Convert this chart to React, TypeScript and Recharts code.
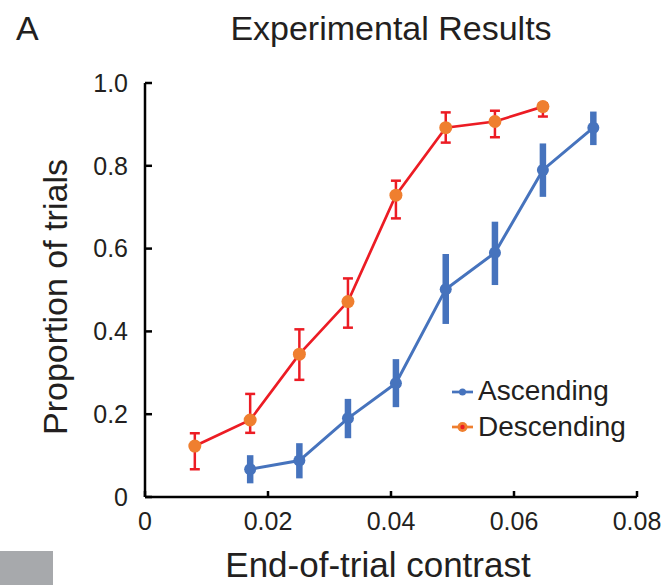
import { LineChart, Line, XAxis, YAxis, ErrorBar } from 'recharts';

// end-of-trial contrast levels shared by both staircases
const contrast = [0.0081, 0.0171, 0.0251, 0.033, 0.0408, 0.0489, 0.0569, 0.0647, 0.0729];

// descending runs use the first eight levels
const descMean = [0.123, 0.186, 0.345, 0.472, 0.729, 0.892, 0.907, 0.943];
const descLow = [0.067, 0.155, 0.283, 0.409, 0.673, 0.856, 0.869, 0.919];
const descHigh = [0.154, 0.249, 0.405, 0.528, 0.764, 0.929, 0.933, 0.951];

// ascending runs use the last eight levels
const ascMean = [0.067, 0.088, 0.19, 0.275, 0.502, 0.59, 0.79, 0.892];
const ascLow = [0.033, 0.045, 0.142, 0.217, 0.418, 0.512, 0.725, 0.85];
const ascHigh = [0.101, 0.13, 0.237, 0.333, 0.587, 0.665, 0.854, 0.931];

const xTicks = [0, 0.02, 0.04, 0.06, 0.08];
const yTicks = [0, 0.2, 0.4, 0.6, 0.8, 1.0];

const FONT = '"Liberation Sans", Arial, sans-serif';
const INK = '#231f20';
const BLUE = '#4673bd';
const RED = '#ec1c24';
const ORANGE = '#ef7f2f';

const descending = descMean.map((v, i) => ({
  x: contrast[i],
  y: v,
  err: [v - descLow[i], descHigh[i] - v],
}));

const ascending = ascMean.map((v, i) => ({
  x: contrast[i + 1],
  y: v,
  err: [v - ascLow[i], ascHigh[i] - v],
}));

const fmtX = (v: number) => (v === 0 ? '0' : v.toFixed(2));
const fmtY = (v: number) => (v === 0 ? '0' : v.toFixed(1));

const axisStroke = { stroke: '#000', strokeWidth: 2.5 };
const tickText = { fontSize: 25, fill: INK, fontFamily: FONT };

export default function App() {
  return (
    <div style={{ position: 'absolute', left: 0, top: 0, width: 663, height: 585, background: '#fff' }}>
      <LineChart
        width={663}
        height={585}
        margin={{ top: 83, right: 26, bottom: 48, left: 85 }}
      >
        <XAxis
          type="number"
          dataKey="x"
          domain={[0, 0.08]}
          ticks={xTicks}
          height={40}
          axisLine={axisStroke}
          tickLine={axisStroke}
          tickSize={-6}
          tickMargin={21}
          tickFormatter={fmtX}
          tick={tickText}
          interval={0}
        />
        <YAxis
          type="number"
          dataKey="y"
          domain={[0, 1]}
          ticks={yTicks}
          width={60}
          axisLine={axisStroke}
          tickLine={axisStroke}
          tickSize={-7}
          tickMargin={24}
          tickFormatter={fmtY}
          tick={tickText}
          interval={0}
        />
        <Line
          data={ascending}
          dataKey="y"
          type="linear"
          stroke={BLUE}
          strokeWidth={3}
          dot={{ r: 6, fill: BLUE, stroke: 'none' }}
          activeDot={false}
          isAnimationActive={false}
        >
          <ErrorBar dataKey="err" direction="y" width={0} stroke={BLUE} strokeWidth={6.5} />
        </Line>
        <Line
          data={descending}
          dataKey="y"
          type="linear"
          stroke={RED}
          strokeWidth={2.7}
          dot={{ r: 6.5, fill: ORANGE, stroke: 'none' }}
          activeDot={false}
          isAnimationActive={false}
        >
          <ErrorBar dataKey="err" direction="y" width={5} stroke={RED} strokeWidth={2.5} />
        </Line>
      </LineChart>

      <svg
        width={663}
        height={585}
        style={{ position: 'absolute', left: 0, top: 0, pointerEvents: 'none' }}
        fontFamily={FONT}
        fill={INK}
      >
        <text x={16} y={40} fontSize={34}>A</text>
        <text x={391} y={40} fontSize={34} textAnchor="middle">Experimental Results</text>
        <text x={378} y={577} fontSize={35} textAnchor="middle">End-of-trial contrast</text>
        <text transform="translate(67,297) rotate(-90)" fontSize={34} textAnchor="middle">
          Proportion of trials
        </text>

        {/* legend */}
        <line x1={452} x2={473} y1={392} y2={392} stroke={BLUE} strokeWidth={2.7} />
        <circle cx={462.5} cy={392} r={3.5} fill={BLUE} />
        <text x={478} y={400} fontSize={28}>Ascending</text>
        <line x1={452} x2={473} y1={427} y2={427} stroke={ORANGE} strokeWidth={2.7} />
        <circle cx={462.5} cy={427} r={5} fill={ORANGE} />
        <circle cx={462.5} cy={427} r={2.2} fill={RED} />
        <text x={478} y={436} fontSize={28}>Descending</text>

        <rect x={0} y={551} width={53} height={34} fill="#a7a9ac" />
      </svg>
    </div>
  );
}
